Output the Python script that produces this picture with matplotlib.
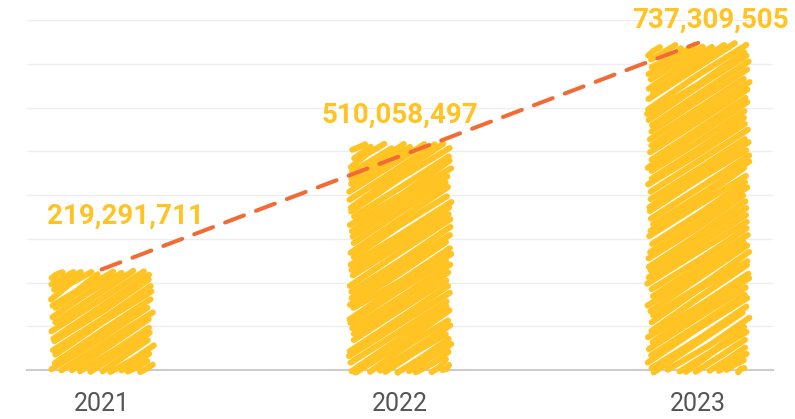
import numpy as np
import matplotlib.pyplot as plt
import matplotlib.transforms as mtransforms

years = ['2021', '2022', '2023']
values = [219291711, 510058497, 737309505]
# label offsets (points) from the top of each bar
label_offsets = [(17, 42), (0, 23), (9, 20)]

BAR_COLOR = '#FFC423'
TREND_COLOR = '#F26B35'
GRID_COLOR = '#EEEEEE'


def hachure(ax, bar, rng, angle=33, gap=5.5, lw_px=6.0):
    # scribble fill for one bar, built in display pixels from the bar geometry
    x0, y0 = ax.transData.transform((bar.get_x(), 0))
    x1, y1 = ax.transData.transform((bar.get_x() + bar.get_width(), bar.get_height()))
    a = np.radians(angle)
    d = np.array([np.cos(a), np.sin(a)])
    n = np.array([-np.sin(a), np.cos(a)])
    corners = np.array([[x0, y0], [x1, y0], [x0, y1], [x1, y1]])
    proj = corners @ n
    offsets = np.arange(proj.min() + gap / 2, proj.max(), gap)
    lw_pt = lw_px * 72 / ax.figure.dpi
    for o in offsets:
        base = o * n
        tx = sorted(((x0 - base[0]) / d[0], (x1 - base[0]) / d[0]))
        ty = sorted(((y0 - base[1]) / d[1], (y1 - base[1]) / d[1]))
        t0, t1 = max(tx[0], ty[0]), min(tx[1], ty[1])
        if t1 - t0 < 3:
            continue
        t0 -= rng.uniform(-1, 6)
        t1 += rng.uniform(-1, 6)
        jit = rng.normal(0, 1.0, 3)
        p0 = base + t0 * d + n * jit[0]
        p1 = base + t1 * d + n * jit[1]
        # slight bow in the middle of each stroke
        pm = (p0 + p1) / 2 + n * jit[2]
        ax.plot([p0[0], pm[0], p1[0]], [p0[1], pm[1], p1[1]],
                color=BAR_COLOR, lw=lw_pt, solid_capstyle='round',
                solid_joinstyle='round',
                transform=mtransforms.IdentityTransform(), clip_on=False,
                zorder=3)


fig = plt.figure(figsize=(7.95, 4.19), dpi=100)
ax = fig.add_axes([0.034, 0.117, 0.938, 0.835])

x = np.arange(len(years))
ax.set_xlim(-0.25, 2.25)
ax.set_ylim(0, 800e6)
ax.set_autoscale_on(False)

bars = ax.bar(x, values, width=0.31, color='none', linewidth=0)

rng = np.random.default_rng(7)
for b in bars:
    hachure(ax, b, rng)

# linear trend across the three years
slope, icpt = np.polyfit(x, values, 1)
ax.plot(x[[0, -1]], slope * x[[0, -1]] + icpt, color=TREND_COLOR, lw=2.9,
        linestyle=(0, (5, 3.2)), dash_capstyle='round', zorder=4)

for xi, v, (dx, dy) in zip(x, values, label_offsets):
    ax.annotate(f'{v:,}', (xi, v), xytext=(dx, dy), textcoords='offset points',
                ha='center', va='center', fontsize=20, fontweight='bold',
                family='Roboto', color=BAR_COLOR, zorder=5)

ax.set_yticks(np.arange(0, 800e6 + 1, 100e6))
ax.yaxis.grid(True, color=GRID_COLOR, lw=1)
ax.set_axisbelow(True)
ax.set_yticklabels([])
ax.tick_params(axis='y', length=0)
ax.set_xticks(x)
ax.set_xticklabels(years, fontsize=18, family='Roboto', color='#555555')
ax.tick_params(axis='x', length=0, pad=16)
for side in ['left', 'right', 'top']:
    ax.spines[side].set_visible(False)
ax.spines['bottom'].set_color('#CCCCCC')
ax.spines['bottom'].set_linewidth(1.5)

fig.savefig('out.png', dpi=100)
